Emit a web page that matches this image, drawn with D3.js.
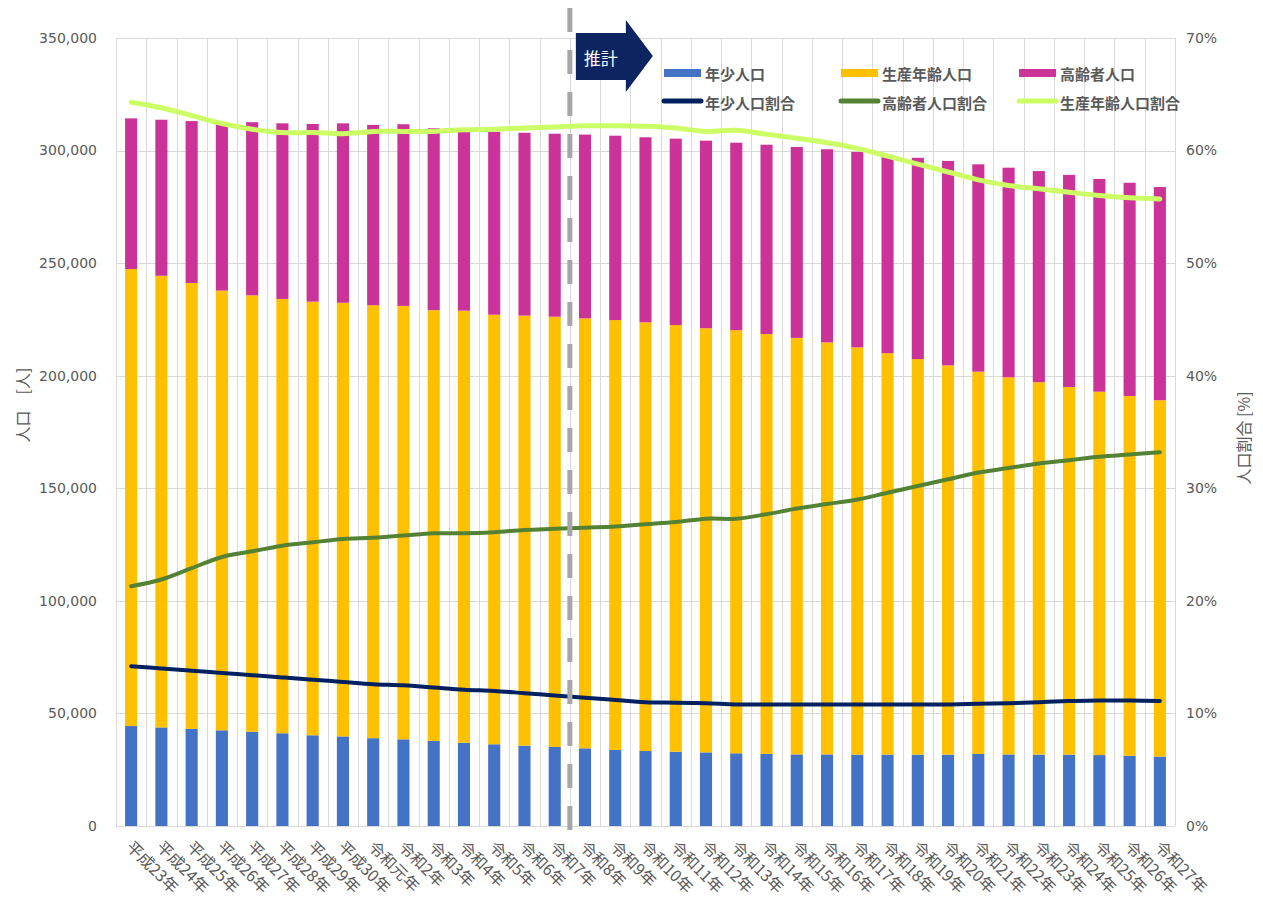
<!DOCTYPE html>
<html>
<head>
<meta charset="utf-8">
<script src="https://cdn.jsdelivr.net/npm/d3@7"></script>
<style>
  body { margin: 0; background: #fff; }
  text { font-family: "Noto Sans CJK JP", "Noto Sans", sans-serif; fill: #595959; }
  .tick-num { font-family: "DejaVu Sans", sans-serif; font-size: 14px; }
</style>
</head>
<body>
<div id="chart"></div>
<script>
// categories (fiscal years)
var categories = ['平成23年', '平成24年', '平成25年', '平成26年', '平成27年', '平成28年', '平成29年', '平成30年',
    '令和元年', '令和2年', '令和3年', '令和4年', '令和5年', '令和6年', '令和7年', '令和8年', '令和9年',
    '令和10年', '令和11年', '令和12年', '令和13年', '令和14年', '令和15年', '令和16年', '令和17年',
    '令和18年', '令和19年', '令和20年', '令和21年', '令和22年', '令和23年', '令和24年', '令和25年',
    '令和26年', '令和27年'];

// population [persons]
var youngPop = [44400, 43800, 43100, 42500, 41900, 41200, 40300, 39800, 39000, 38500, 37800, 37000, 36300,
    35700, 35100, 34500, 33800, 33300, 33000, 32700, 32300, 32000, 31800, 31800, 31700, 31700, 31700, 31700,
    32000, 31800, 31700, 31700, 31500, 31200, 30800];
var workingPop = [203000, 200600, 198100, 195300, 193800, 192900, 192600, 192600, 192300, 192500, 191300,
    191900, 190800, 191000, 191100, 191000, 190900, 190400, 189500, 188400, 187900, 186500, 185000, 183000,
    180900, 178300, 175700, 172900, 169800, 167500, 165400, 163300, 161400, 159800, 158300];
var elderlyPop = [66900, 69300, 71900, 74900, 76900, 78000, 78900, 79700, 80100, 80700, 80800, 81000, 81300,
    81200, 81300, 81600, 81900, 82200, 82800, 83300, 83300, 84100, 84800, 85800, 86800, 88100, 89400, 90800,
    92100, 93100, 93800, 94200, 94500, 94700, 94700];

// ratios [%]
var youngPct = [14.2, 14.0, 13.8, 13.6, 13.4, 13.2, 13.0, 12.8, 12.6, 12.5, 12.3, 12.1, 12.0, 11.8, 11.6,
    11.4, 11.2, 11.0, 10.95, 10.9, 10.8, 10.8, 10.8, 10.8, 10.8, 10.8, 10.8, 10.8, 10.85, 10.9, 11.0, 11.1,
    11.15, 11.15, 11.1];
var elderlyPct = [21.3, 21.9, 22.9, 23.9, 24.4, 24.9, 25.2, 25.5, 25.6, 25.8, 26.0, 26.0, 26.1, 26.3, 26.4,
    26.5, 26.6, 26.8, 27.0, 27.3, 27.3, 27.7, 28.2, 28.6, 29.0, 29.6, 30.2, 30.8, 31.4, 31.8, 32.2, 32.5,
    32.8, 33.0, 33.2];
var workingPct = [64.3, 63.8, 63.1, 62.4, 61.9, 61.6, 61.6, 61.5, 61.7, 61.7, 61.7, 61.85, 61.9, 62.0, 62.1,
    62.2, 62.2, 62.15, 62.0, 61.7, 61.8, 61.45, 61.1, 60.7, 60.2, 59.5, 58.8, 58.1, 57.4, 56.9, 56.6, 56.3,
    56.0, 55.8, 55.7];

var leftTicks = [0, 50000, 100000, 150000, 200000, 250000, 300000, 350000];
var rightTicks = [0, 10, 20, 30, 40, 50, 60, 70];
var estimateStart = '令和8年';

var barKeys = ['young', 'working', 'elderly'];
var barNames = {young: '年少人口', working: '生産年齢人口', elderly: '高齢者人口'};
var barColors = {young: '#4472C4', working: '#FFC000', elderly: '#CC3399'};

var lineSeries = [
    {name: '年少人口割合', values: youngPct, color: '#002060', width: 4},
    {name: '高齢者人口割合', values: elderlyPct, color: '#548235', width: 4},
    {name: '生産年齢人口割合', values: workingPct, color: '#CCFF66', width: 5}
];

var svgWidth = 1263,
    svgHeight = 906,
    plot = {left: 116, right: 1175, top: 38, bottom: 826};

var table = categories.map(function (c, i) {
    return {cat: c, young: youngPop[i], working: workingPop[i], elderly: elderlyPop[i]};
});

var x = d3.scaleBand().domain(categories).range([plot.left, plot.right])
        .paddingInner(0.6).paddingOuter(0.3),
    y = d3.scaleLinear().domain([0, 350000]).range([plot.bottom, plot.top]),
    y2 = d3.scaleLinear().domain([0, 70]).range([plot.bottom, plot.top]);

var svg = d3.select('#chart').append('svg')
    .attr('width', svgWidth)
    .attr('height', svgHeight);

// gridlines
var grid = svg.append('g').attr('stroke', '#D9D9D9').attr('stroke-width', 1);
grid.selectAll('line.h').data(leftTicks).enter().append('line')
    .attr('class', 'h')
    .attr('x1', plot.left).attr('x2', plot.right)
    .attr('y1', function (d) { return Math.round(y(d)) + 0.5; })
    .attr('y2', function (d) { return Math.round(y(d)) + 0.5; });
var bounds = categories.map(function (c) { return x(c) + x.bandwidth() / 2 - x.step() / 2; });
bounds.push(plot.right);
grid.selectAll('line.v').data(bounds).enter().append('line')
    .attr('class', 'v')
    .attr('x1', function (d) { return Math.round(d) + 0.5; })
    .attr('x2', function (d) { return Math.round(d) + 0.5; })
    .attr('y1', plot.top).attr('y2', plot.bottom);

// stacked bars
var stacked = d3.stack().keys(barKeys)(table);
svg.append('g').selectAll('g').data(stacked).enter().append('g')
    .attr('fill', function (d) { return barColors[d.key]; })
    .selectAll('rect').data(function (d) { return d; }).enter().append('rect')
    .attr('x', function (d) { return x(d.data.cat); })
    .attr('width', x.bandwidth())
    .attr('y', function (d) { return y(d[1]); })
    .attr('height', function (d) { return y(d[0]) - y(d[1]); });

// ratio lines
var line = d3.line()
    .x(function (d, i) { return x(categories[i]) + x.bandwidth() / 2; })
    .y(function (d) { return y2(d); })
    .curve(d3.curveCatmullRom.alpha(0.5));

svg.append('g').selectAll('path').data(lineSeries).enter().append('path')
    .attr('fill', 'none')
    .attr('stroke', function (d) { return d.color; })
    .attr('stroke-width', function (d) { return d.width; })
    .attr('stroke-linecap', 'round')
    .attr('d', function (d) { return line(d.values); });

// estimate divider
var divX = x(estimateStart) + x.bandwidth() / 2 - x.step() / 2;
svg.append('line')
    .attr('x1', divX).attr('x2', divX)
    .attr('y1', 8).attr('y2', 830)
    .attr('stroke', '#A6A6A6')
    .attr('stroke-width', 5)
    .attr('stroke-dasharray', '24,18');

// arrow "推計"
svg.append('path')
    .attr('d', 'M' + (divX + 6) + ',33 H' + (divX + 56) + ' V20 L' + (divX + 83) + ',56 L' + (divX + 56) +
        ',92 V80 H' + (divX + 6) + ' Z')
    .attr('fill', '#0C2560');
svg.append('text')
    .attr('x', divX + 31).attr('y', 57)
    .attr('text-anchor', 'middle')
    .attr('dominant-baseline', 'central')
    .style('font-size', '17px')
    .style('fill', '#fff')
    .text('推計');

// axes labels
svg.append('g').selectAll('text').data(leftTicks).enter().append('text')
    .attr('class', 'tick-num')
    .attr('x', 97)
    .attr('y', function (d) { return y(d); })
    .attr('dy', '0.35em')
    .attr('text-anchor', 'end')
    .text(d3.format(','));

svg.append('g').selectAll('text').data(rightTicks).enter().append('text')
    .attr('class', 'tick-num')
    .attr('x', 1186)
    .attr('y', function (d) { return y2(d); })
    .attr('dy', '0.35em')
    .text(function (d) { return d + '%'; });

svg.append('g').selectAll('text').data(categories).enter().append('text')
    .attr('transform', function (d) {
        return 'translate(' + (x(d) + x.bandwidth() / 2 - 2) + ',' + 844 + ') rotate(45)';
    })
    .attr('dy', '0.35em')
    .style('font-size', '16px')
    .text(function (d) { return d; });

svg.append('text')
    .attr('transform', 'translate(22,405) rotate(-90)')
    .attr('text-anchor', 'middle')
    .attr('dominant-baseline', 'central')
    .style('font-size', '16px')
    .text('人口　[人]');

svg.append('text')
    .attr('transform', 'translate(1243,438) rotate(-90)')
    .attr('text-anchor', 'middle')
    .attr('dominant-baseline', 'central')
    .style('font-size', '16px')
    .text('人口割合 [%]');

// legend
var legendCols = [664, 841, 1019];
var legend = svg.append('g').style('font-size', '15px').style('font-weight', 'bold');
barKeys.forEach(function (k, i) {
    legend.append('rect')
        .attr('x', legendCols[i]).attr('y', 69)
        .attr('width', 37).attr('height', 8)
        .attr('fill', barColors[k]);
    legend.append('text')
        .attr('x', legendCols[i] + 41).attr('y', 73)
        .attr('dominant-baseline', 'central')
        .text(barNames[k]);
});
lineSeries.forEach(function (s, i) {
    legend.append('line')
        .attr('x1', legendCols[i]).attr('x2', legendCols[i] + 37)
        .attr('y1', 101).attr('y2', 101)
        .attr('stroke', s.color).attr('stroke-width', 5)
        .attr('stroke-linecap', 'round');
    legend.append('text')
        .attr('x', legendCols[i] + 41).attr('y', 102)
        .attr('dominant-baseline', 'central')
        .text(s.name);
});
</script>
</body>
</html>
